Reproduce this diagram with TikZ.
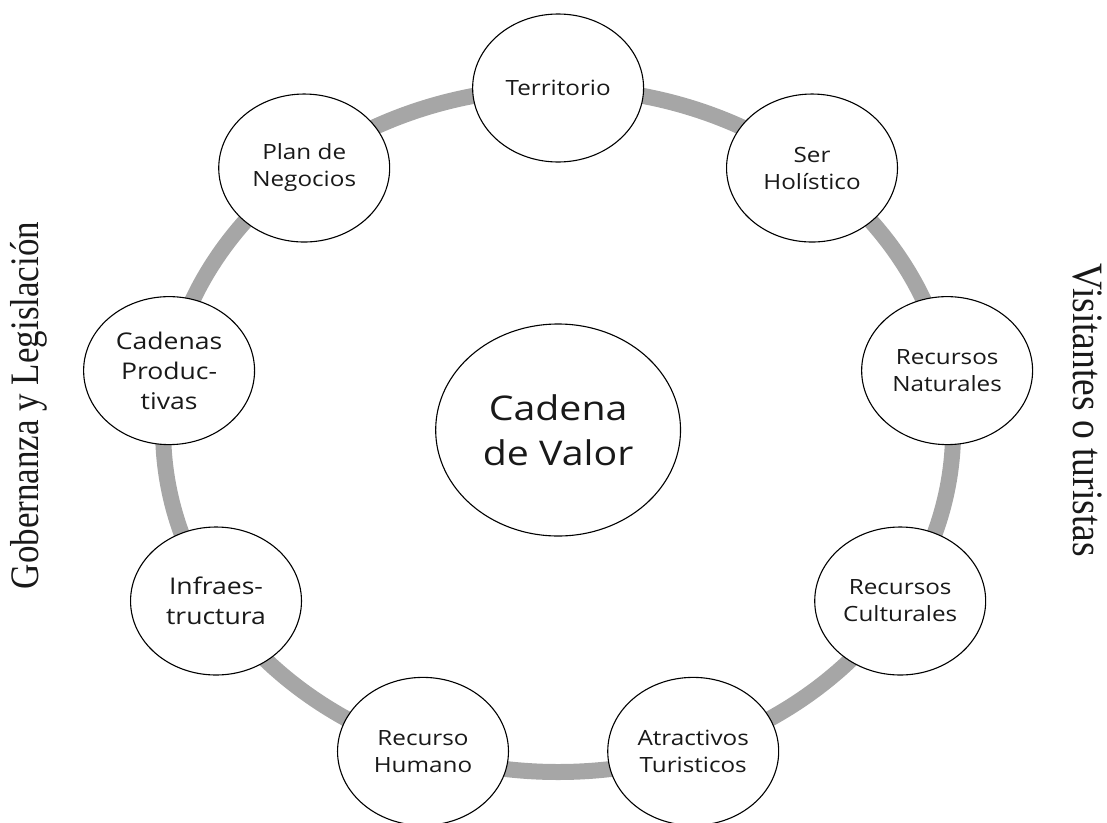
\documentclass[tikz,border=0pt]{standalone}
\usepackage{fontspec}
\setmainfont{Open Sans}
\newfontfamily\sidefont{Liberation Serif}
\usetikzlibrary{calc}
\definecolor{ringgray}{HTML}{A6A6A6}
\tikzset{
  item/.style={circle, draw=black, line width=1.1pt, fill=white, minimum size=148pt, inner sep=0pt, align=center, text=black!90, font=\fontsize{21}{27}\selectfont},
  itembig/.style={item, font=\fontsize{23}{30}\selectfont},
  hub/.style={circle, draw=black, line width=1.1pt, fill=white, minimum size=212pt, inner sep=0pt, align=center, text=black!90, font=\fontsize{34}{45}\selectfont},
  ringline/.style={draw=ringgray, line width=16pt},
  side/.style={inner sep=0pt, text=black!90},
}
\begin{document}
\begin{tikzpicture}[xscale=1.155, transform shape, x=1pt, y=1pt]
\useasboundingbox (0,-822) rectangle (958.44,0);
\clip (0,-822) rectangle (958.44,0);
\coordinate (c) at (483.1,-430);
\draw[ringline] (c) circle[radius=342];
\node[hub] (cv) at (c) {Cadena\\de Valor};
\node[item] (ter) at ($(c)+(90:342)$) {Territorio};
\node[item] (ser) at ($(c)+(50:342)$) {Ser\\Holístico};
\node[item] (rn) at ($(c)+(10:342)$) {Recursos\\Naturales};
\node[item] (rc) at ($(c)+(-30:342)$) {Recursos\\Culturales};
\node[item] (at) at ($(c)+(-70:342)$) {Atractivos\\Turisticos};
\node[item] (rh) at ($(c)+(-110:342)$) {Recurso\\Humano};
\node[itembig] (inf) at ($(c)+(-150:342)$) {Infraes-\\tructura};
\node[itembig] (cp) at ($(c)+(170:342)$) {Cadenas\\Produc-\\tivas};
\node[item] (pn) at ($(c)+(130:342)$) {Plan de\\Negocios};
\node[side, rotate=90, font=\sidefont\fontsize{35}{42}\selectfont] (gob) at (25.1,-405.5) {Gobernanza y Legislación};
\node[side, rotate=-90, font=\sidefont\fontsize{37.5}{45}\selectfont] (vis) at (941.5,-410) {Visitantes o turistas};
\end{tikzpicture}
\end{document}
